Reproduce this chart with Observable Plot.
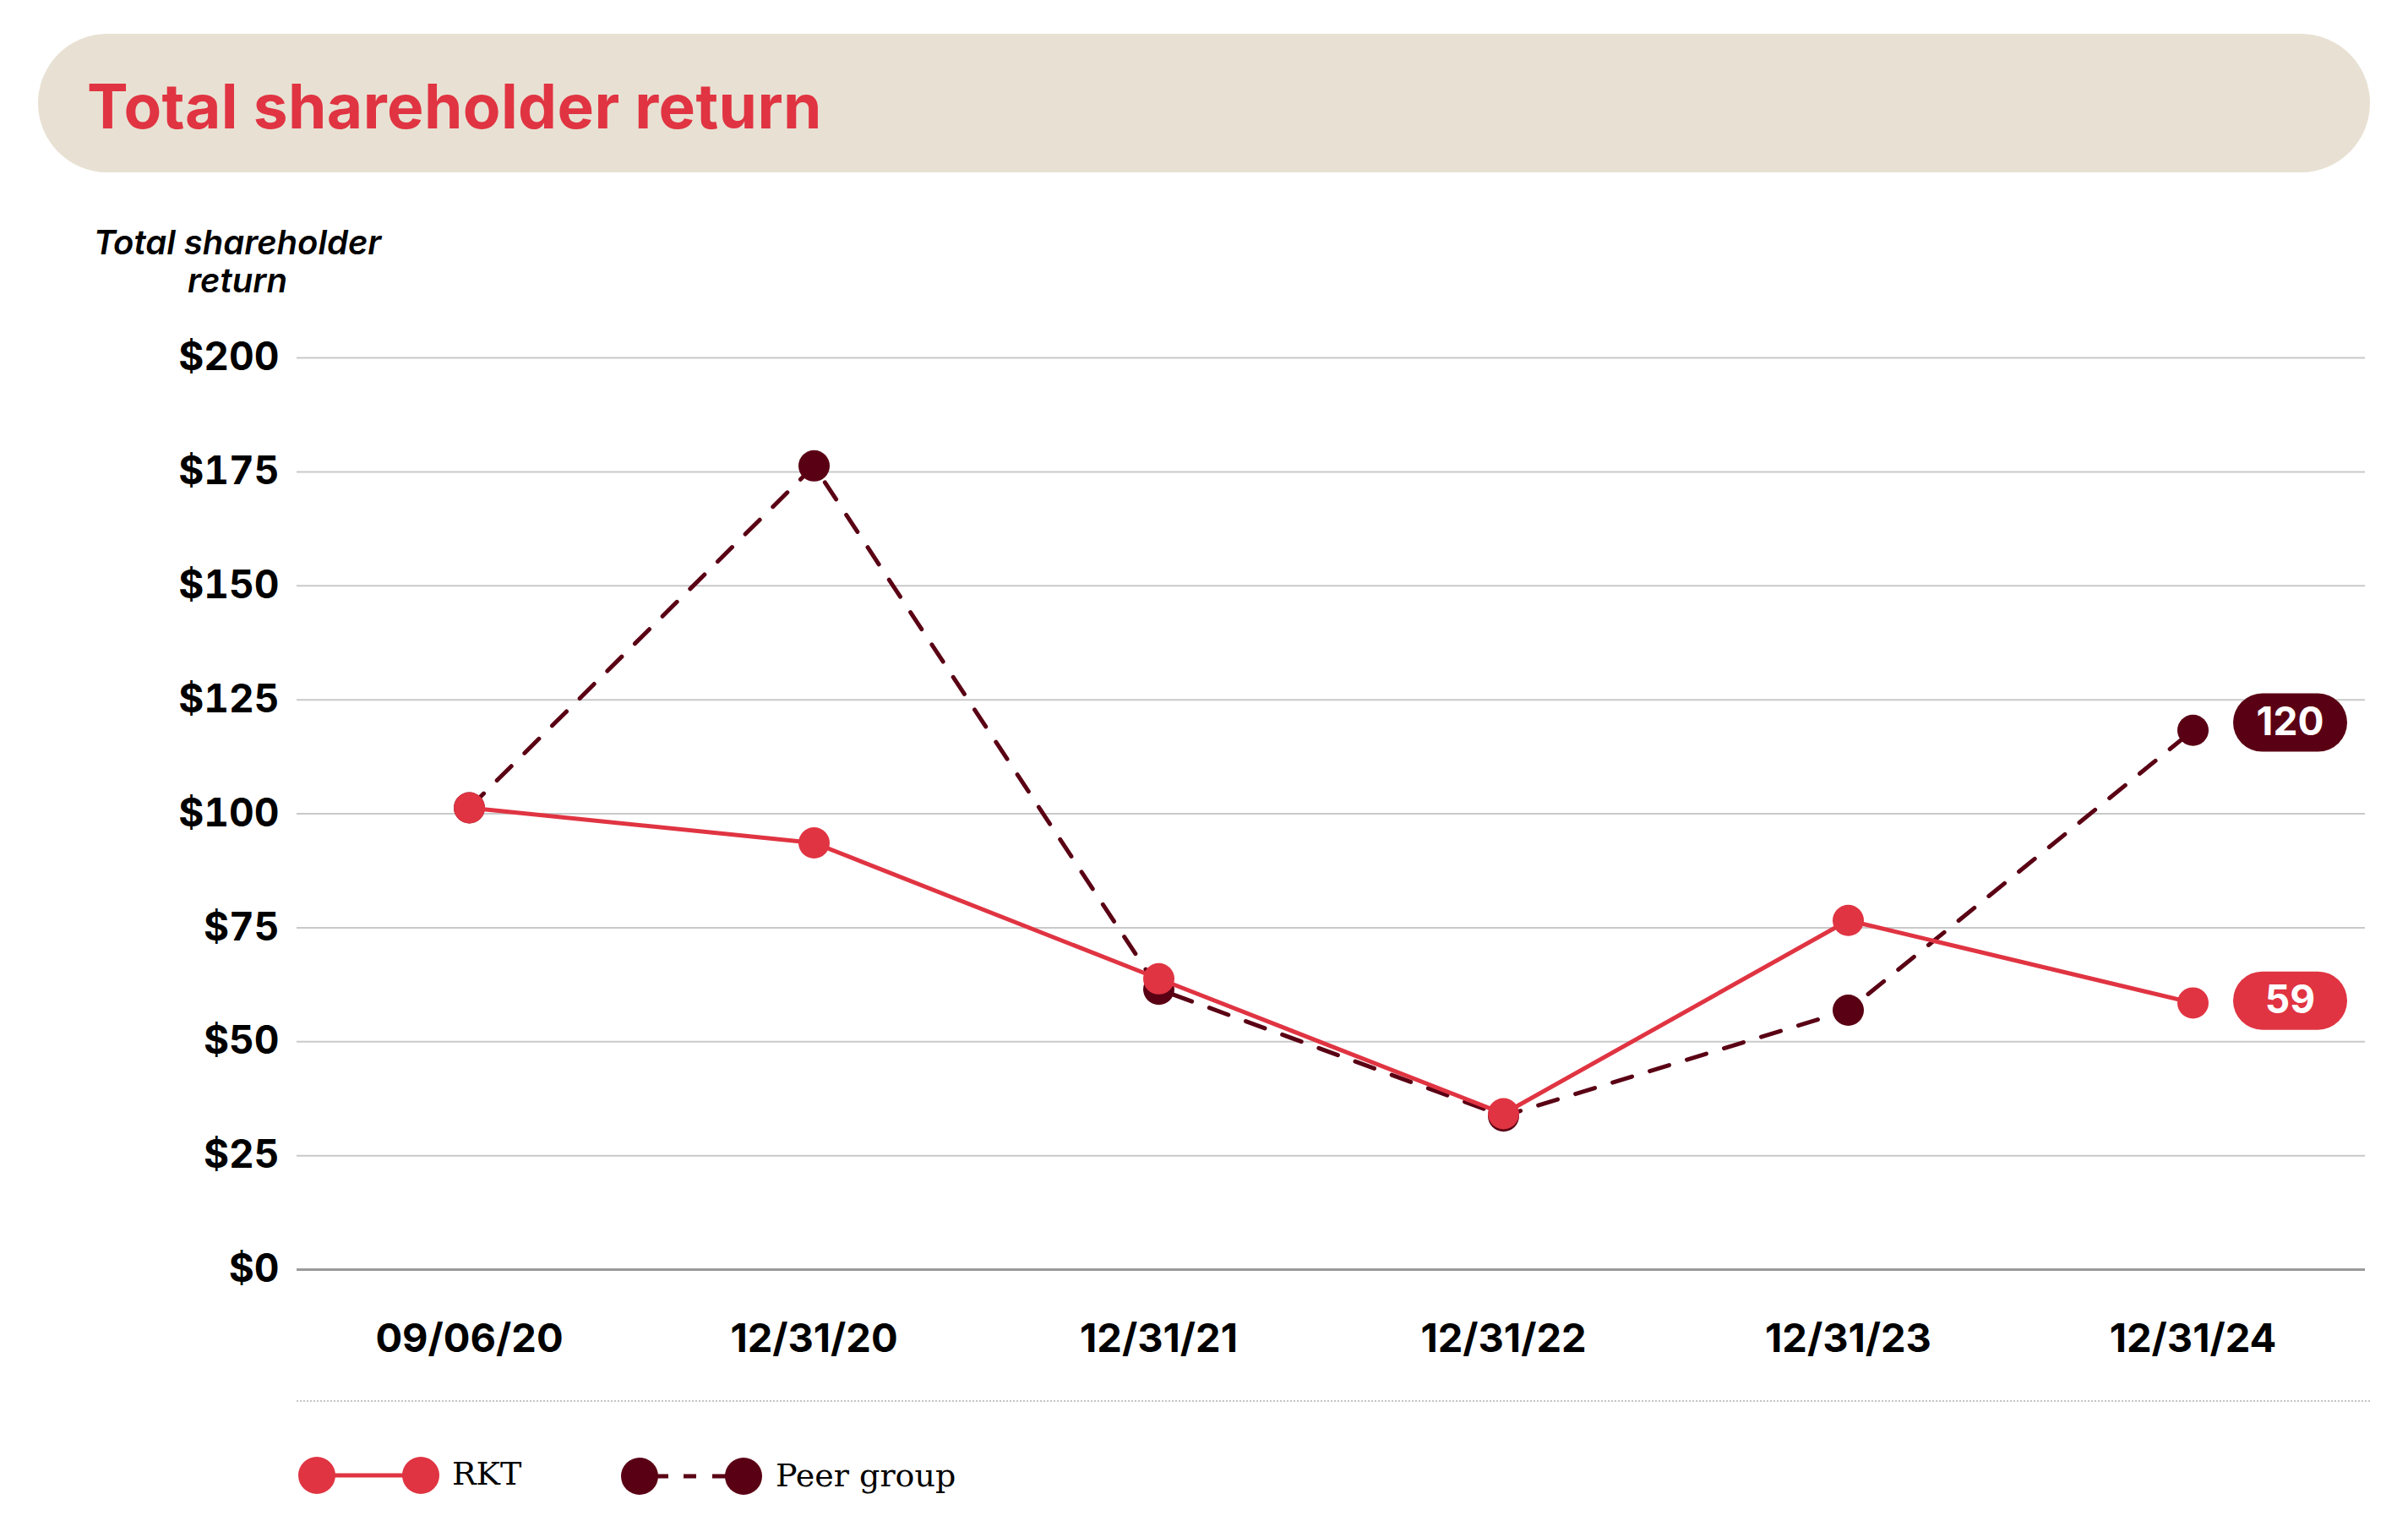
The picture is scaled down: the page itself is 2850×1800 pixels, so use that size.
<!DOCTYPE html>
<html>
<head>
<meta charset="utf-8">
<script src="https://cdn.jsdelivr.net/npm/d3@7"></script>
<script src="https://cdn.jsdelivr.net/npm/@observablehq/plot@0.6"></script>
<style>
  html, body { margin: 0; padding: 0; background: #fff; width: 2850px; height: 1800px; overflow: hidden; font-family: Inter, "Noto Sans", sans-serif; }
  #banner { position: absolute; left: 45px; top: 40px; width: 2760px; height: 164px; border-radius: 82px; background: #E8E1D3; }
  #title { position: absolute; left: 103px; top: 89px; font: 700 73px/73px Inter, sans-serif; letter-spacing: 0.4px; color: #E03442; white-space: nowrap; }
  #ytitle { position: absolute; left: 81px; top: 264px; width: 400px; text-align: center; font: italic 600 40px/45px Inter, sans-serif; color: #000; white-space: nowrap; }
  #chart { position: absolute; left: 0; top: 230px; }
  #sep { position: absolute; left: 351px; top: 1657px; width: 2454px; border-top: 2px dotted #c4c4c4; }
  #legend { position: absolute; left: 0; top: 1700px; }
  .lt { position: absolute; font: 500 38px/38px "DejaVu Serif", serif; color: #000; white-space: nowrap; }
</style>
</head>
<body>
<div id="banner"></div>
<div id="title">Total shareholder return</div>
<div id="ytitle">Total shareholder<br>return</div>
<div id="chart"></div>
<div id="sep"></div>
<svg id="legend" width="1200" height="100"></svg>
<div class="lt" id="lrkt" style="left:535px;top:1725px;">RKT</div>
<div class="lt" id="lpeer" style="left:918px;top:1727px;">Peer group</div>
<script>
// ---- data ----
const dates = ["09/06/20", "12/31/20", "12/31/21", "12/31/22", "12/31/23", "12/31/24"];
const rktValues = [101.3, 93.6, 63.8, 34.2, 76.6, 58.5];
const peerValues = [101.3, 176.3, 61.5, 33.7, 56.9, 118.3];
const yTicks = [0, 25, 50, 75, 100, 125, 150, 175, 200];
const endLabels = ["59", "120"];
const endLabelValues = [59, 120];
const seriesNames = ["RKT", "Peer group"];

const red = "#E03442";
const maroon = "#5A0014";

const rktRows = dates.map((d, i) => ({date: d, value: rktValues[i]}));
const peerRows = dates.map((d, i) => ({date: d, value: peerValues[i]}));
const lastDate = dates[dates.length - 1];
const rktEnd = [{date: lastDate, value: endLabelValues[0], label: endLabels[0]}];
const peerEnd = [{date: lastDate, value: endLabelValues[1], label: endLabels[1]}];

// pill-shaped symbol for the end labels
const pill = {
  draw(ctx) {
    const w = 135, h = 69, r = h / 2;
    const x0 = -w / 2 + r, x1 = w / 2 - r;
    ctx.moveTo(x0, -r);
    ctx.lineTo(x1, -r);
    ctx.arc(x1, 0, r, -Math.PI / 2, Math.PI / 2);
    ctx.lineTo(x0, r);
    ctx.arc(x0, 0, r, Math.PI / 2, 3 * Math.PI / 2);
    ctx.closePath();
  }
};

const chart = Plot.plot({
  width: 2850,
  height: 1440,
  marginTop: 193,
  marginBottom: 168,
  marginLeft: 351,
  marginRight: 51,
  style: {background: "transparent", fontFamily: "Inter, sans-serif", overflow: "visible"},
  x: {type: "point", domain: dates, padding: 0.5},
  y: {domain: [0, 200]},
  marks: [
    Plot.ruleY(yTicks.filter(d => d > 0), {stroke: "#c9c9c9", strokeWidth: 2}),
    Plot.ruleY([0], {stroke: "#9a9a9a", strokeWidth: 3}),
    Plot.axisY(yTicks, {tickSize: 0, tickPadding: 21, tickFormat: d => "$" + d, fontSize: 46, fontWeight: 700, color: "#000", label: null}),
    Plot.axisX({tickSize: 0, tickPadding: 64, fontSize: 47, fontWeight: 700, color: "#000", label: null}),
    Plot.line(peerRows, {x: "date", y: "value", stroke: maroon, strokeWidth: 5, strokeDasharray: "24,22"}),
    Plot.dot(peerRows, {x: "date", y: "value", r: 18.5, fill: maroon}),
    Plot.line(rktRows, {x: "date", y: "value", stroke: red, strokeWidth: 5}),
    Plot.dot(rktRows, {x: "date", y: "value", r: 18.5, fill: red}),
    Plot.dot(peerEnd, {x: "date", y: "value", symbol: pill, fill: maroon, dx: 115}),
    Plot.dot(rktEnd, {x: "date", y: "value", symbol: pill, fill: red, dx: 115}),
    Plot.text(peerEnd, {x: "date", y: "value", text: "label", dx: 115, fill: "#fff", fontSize: 46, fontWeight: 700}),
    Plot.text(rktEnd, {x: "date", y: "value", text: "label", dx: 115, fill: "#fff", fontSize: 46, fontWeight: 700})
  ]
});
document.getElementById("chart").appendChild(chart);

// legend symbols
const lg = d3.select("#legend");
// RKT: solid line between two dots
lg.append("line").attr("x1", 375).attr("x2", 498).attr("y1", 46).attr("y2", 46).attr("stroke", red).attr("stroke-width", 5);
lg.append("circle").attr("cx", 375).attr("cy", 46).attr("r", 22).attr("fill", red);
lg.append("circle").attr("cx", 498).attr("cy", 46).attr("r", 22).attr("fill", red);
// Peer group: dashed line between two dots
lg.append("line").attr("x1", 757).attr("x2", 880).attr("y1", 47).attr("y2", 47).attr("stroke", maroon).attr("stroke-width", 5).attr("stroke-dasharray", "34,18,15,19,37");
lg.append("circle").attr("cx", 757).attr("cy", 47).attr("r", 22).attr("fill", maroon);
lg.append("circle").attr("cx", 880).attr("cy", 47).attr("r", 22).attr("fill", maroon);
document.getElementById("lrkt").textContent = seriesNames[0];
document.getElementById("lpeer").textContent = seriesNames[1];
</script>
</body>
</html>
